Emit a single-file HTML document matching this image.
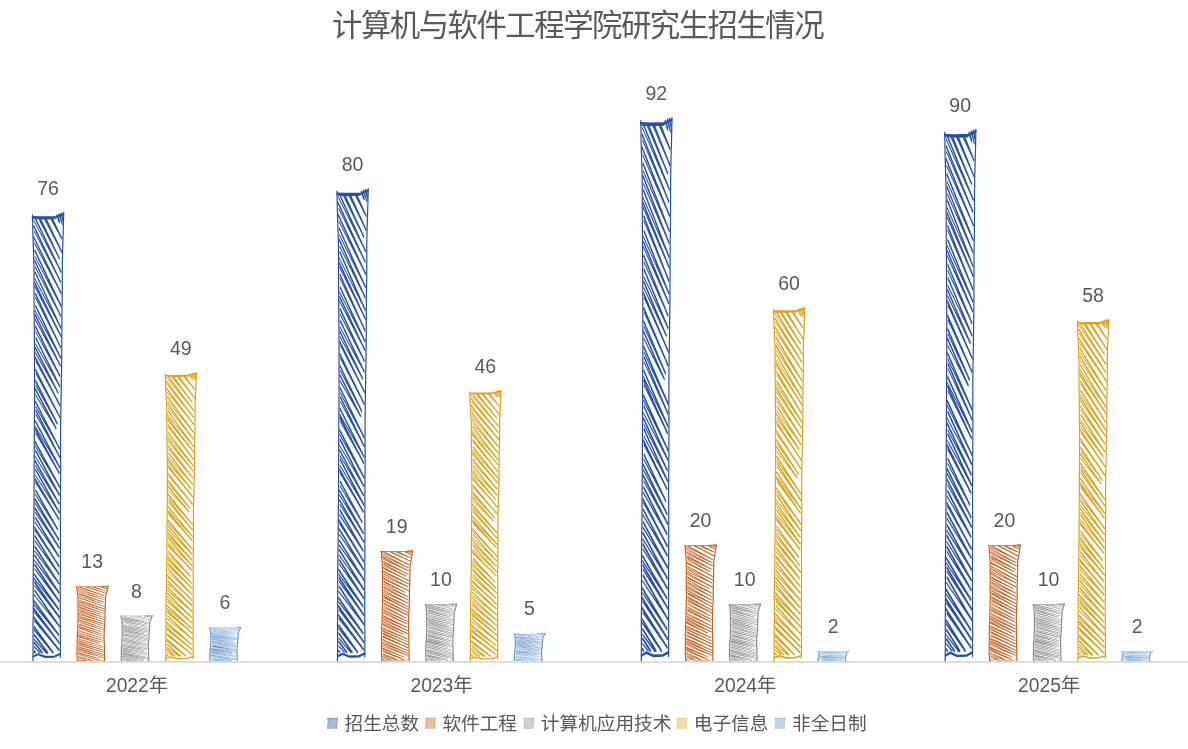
<!DOCTYPE html><html lang="zh-CN"><head><meta charset="utf-8"><title>计算机与软件工程学院研究生招生情况</title>
<style>html,body{margin:0;padding:0;background:#fff;}body{width:1188px;height:749px;overflow:hidden;}svg{display:block;}text{font-family:"Liberation Sans","Noto Sans CJK SC",sans-serif;fill:#595959;}.t{font-size:30.4px;letter-spacing:-1.5px;}.v{font-size:19.5px;text-anchor:middle;}.c{font-size:19.3px;text-anchor:middle;}.l{font-size:18.67px;}</style></head><body>
<svg width="1188" height="749" viewBox="0 0 1188 749">
<defs><symbol id="pa" viewBox="0 0 32 214" preserveAspectRatio="none" overflow="visible"><g fill="none" stroke="currentColor" stroke-linecap="round" stroke-linejoin="round"><path stroke="none" fill="currentColor" d="M25.71 3.07L27.26 4.58L28.02 3.79L26.48 2.28ZM25.65 2.96L27.39 4.47L27.89 3.89L26.15 2.39ZM19.89 3.06L29.49 12.75L30.27 11.98L20.67 2.29ZM18.48 2.96L29.63 12.65L30.13 12.08L18.98 2.39ZM13.47 3.06L29.55 19.21L30.32 18.43L14.25 2.29ZM12.1 2.96L29.68 19.1L30.19 18.54L12.62 2.39ZM7.86 3.06L27.17 22.33L27.95 21.55L8.64 2.29ZM6.43 2.96L27.3 22.22L27.82 21.66L6.95 2.39ZM3.04 3.06L28.95 28.76L29.72 27.98L3.81 2.29ZM1.43 3.77L29.08 28.66L29.59 28.09L1.94 3.2ZM1.14 6.45L28.47 33.54L29.24 32.76L1.91 5.68ZM1.87 8.89L28.59 33.43L29.11 32.87L2.39 8.33ZM1.14 11.74L29.1 39.04L29.87 38.26L1.91 10.96ZM2.01 14.54L29.23 38.93L29.74 38.36L2.52 13.97ZM2.13 17.98L28.8 44.96L29.58 44.18L2.91 17.2ZM2.51 20.95L28.93 44.85L29.44 44.29L3.02 20.38ZM2.07 22.95L28.52 49.72L29.3 48.95L2.85 22.18ZM2.8 26.01L28.66 49.62L29.17 49.05L3.32 25.44ZM2.65 28.52L28.6 55.32L29.39 54.56L3.43 27.75ZM2.28 31.37L28.74 55.22L29.25 54.66L2.79 30.8ZM2.26 33.59L28.79 59.43L29.55 58.65L3.02 32.8ZM2.5 35.29L28.91 59.32L29.43 58.76L3.01 34.73ZM2.91 38.75L28.36 64.63L29.14 63.86L3.7 37.98ZM3.02 40.38L28.49 64.52L29.01 63.97L3.54 39.83ZM3.07 44.56L28.41 69.61L29.18 68.83L3.84 43.78ZM2.6 46.71L28.55 69.51L29.05 68.93L3.1 46.14ZM2.6 48.9L28.21 73.47L28.97 72.68L3.36 48.11ZM2.55 50.74L28.34 73.37L28.85 72.79L3.06 50.17ZM2.9 54.34L27.59 78.3L28.36 77.52L3.66 53.55ZM3.15 56.69L27.72 78.2L28.23 77.62L3.66 56.11ZM3.22 59.77L27.61 83.28L28.37 82.49L3.98 58.98ZM3.07 62.61L27.74 83.18L28.23 82.59L3.56 62.02ZM2.78 64.51L25.94 86.36L26.7 85.56L3.53 63.71ZM3.08 66.93L26.07 86.25L26.57 85.66L3.57 66.34ZM2.72 69.14L28 92.64L28.74 91.83L3.47 68.33ZM3.53 70.8L28.12 92.52L28.62 91.95L4.04 70.23ZM2.82 74.81L27.6 97.93L28.34 97.13L3.57 74.01ZM3.53 76.62L27.72 97.82L28.22 97.25L4.03 76.04ZM2.93 80.23L25.06 101.09L25.81 100.29L3.68 79.43ZM3.49 82.37L25.19 100.98L25.69 100.4L3.99 81.79ZM2.72 84.19L23.9 103.37L24.64 102.55L3.46 83.38ZM3.24 87L24.04 103.26L24.51 102.66L3.71 86.4ZM2.79 90.04L27.56 113.06L28.3 112.25L3.53 89.24ZM3.37 92.46L27.68 112.95L28.18 112.36L3.87 91.87ZM3.4 94.38L27.58 117.06L28.33 116.26L4.15 93.58ZM3.4 96.25L27.7 116.95L28.2 116.37L3.89 95.67ZM2.84 99.54L27.55 121.96L28.29 121.15L3.58 98.72ZM2.68 101.98L27.68 121.85L28.16 121.25L3.16 101.38ZM2.88 103.45L27.07 124.67L27.79 123.85L3.6 102.62ZM3.37 105.18L27.19 124.56L27.67 123.96L3.85 104.59ZM2.61 109.31L27.49 131.29L28.22 130.47L3.34 108.48ZM2.72 111.18L27.61 131.18L28.09 130.58L3.2 110.58ZM3.05 113.62L27.19 135.05L27.92 134.23L3.78 112.8ZM2.59 116.16L27.33 134.94L27.79 134.33L3.05 115.55ZM2.53 118.36L26.89 139.29L27.6 138.46L3.24 117.53ZM3.12 120.79L27.01 139.17L27.48 138.57L3.59 120.19ZM3.11 122.66L27.2 143.51L27.92 142.68L3.83 121.83ZM3.06 125.34L27.34 143.4L27.79 142.79L3.51 124.73ZM2.47 127.13L26.68 146.68L27.37 145.83L3.16 126.27ZM3.13 128.64L26.79 146.56L27.25 145.95L3.59 128.03ZM3.11 132.61L25.43 151.4L26.14 150.56L3.82 131.77ZM2.96 134.39L25.55 151.28L26.01 150.67L3.42 133.78ZM2.46 136.69L26.63 156.45L27.33 155.6L3.16 135.84ZM2.59 138.57L26.75 156.33L27.21 155.71L3.04 137.95ZM2.34 140.98L27.24 160.34L27.91 159.48L3.01 140.11ZM3.03 143.04L27.35 160.22L27.79 159.6L3.47 142.42ZM2.86 145.54L26.57 164.34L27.25 163.48L3.54 144.68ZM2.6 147.6L26.69 164.23L27.12 163.6L3.03 146.97ZM2.02 150.21L27.03 169.17L27.69 168.29L2.68 149.34ZM2.73 151.49L27.14 169.04L27.58 168.42L3.17 150.87ZM2.32 154.28L26.91 172.84L27.57 171.96L2.98 153.4ZM2.41 156.48L27.03 172.72L27.45 172.08L2.83 155.84ZM2.39 159.34L27.23 177.55L27.88 176.66L3.04 158.45ZM2.24 161.31L27.35 177.42L27.76 176.78L2.65 160.66ZM2.06 163.48L27.05 181.85L27.7 180.97L2.71 162.6ZM2.13 165.9L27.17 181.74L27.58 181.09L2.54 165.25ZM2.12 167.97L27.03 185.8L27.67 184.91L2.76 167.07ZM2.33 169.87L27.14 185.68L27.55 185.03L2.74 169.23ZM1.59 172.55L26.59 189.65L27.21 188.74L2.21 171.64ZM1.66 174.47L26.7 189.52L27.09 188.87L2.05 173.82ZM2.05 176.32L27.47 193.6L28.09 192.69L2.67 175.41ZM2.24 177.82L27.58 193.47L27.98 192.82L2.64 177.17ZM2.17 180.28L27.41 197.81L28.04 196.91L2.79 179.38ZM1.68 182.31L27.53 197.69L27.92 197.03L2.07 181.65ZM1.52 185.33L26.59 201.78L27.19 200.86L2.13 184.41ZM1.84 187.11L26.7 201.65L27.08 200.99L2.23 186.45ZM1.4 189.09L27.27 205.68L27.87 204.76L1.99 188.16ZM1.92 190.49L27.38 205.55L27.77 204.89L2.3 189.83ZM1.41 193.19L26.98 209.08L27.56 208.15L1.99 192.25ZM2.23 194.75L27.08 208.95L27.46 208.28L2.61 194.08ZM1.53 197.66L21.23 210.39L21.82 209.47L2.12 196.74ZM1.51 198.94L21.11 210.26L21.49 209.6L1.89 198.28ZM1.73 201.42L15.74 210.4L16.33 209.47L2.32 200.49ZM1.93 203.56L14.48 210.27L14.84 209.6L2.29 202.88ZM1.76 205.18L10.33 210.4L10.9 209.47L2.33 204.24ZM1.99 207.15L8.1 210.27L8.45 209.59L2.34 206.47ZM1.49 209.24L3.35 210.4L3.93 209.47L2.08 208.31Z"/><path stroke-width="1.2" d="M0.54 1.18L0.82 9.36L1.45 17.55L2.01 25.73L1.98 33.92L2.06 42.1L2.22 50.29L2.34 58.48L2.48 66.66L2.55 74.85L2.53 83.03L2.57 91.22L2.37 99.4L2.33 107.59L2.18 115.77L2.17 123.96L2.07 132.14L2.01 140.33L1.77 148.52L1.71 156.7L1.45 164.89L1.2 173.07L1.19 181.26L1.28 189.44L1.01 197.63L1.11 205.81L0.98 214M31.7 0L31.26 8.14L30.71 16.28L30.31 24.42L30.29 32.56L30.21 40.7L29.87 48.84L29.84 56.98L29.75 65.12L29.62 73.26L29.32 81.4L29.03 89.54L28.71 97.68L28.61 105.82L28.58 113.96L28.7 122.1L28.52 130.24L28.43 138.38L28.33 146.52L28.45 154.66L28.41 162.8L28.34 170.94L28.26 179.09L28.27 187.23L28.31 195.37L28.38 203.51L28.32 211.65"/><path stroke-width="1.05" d="M0.29 2.03L9.49 2.15L18.49 2.08L24.2 1.98L27.7 1.12L31.7 0.5M0.99 2.48L12.49 2.58L23.7 2.43M24.7 1.12L27.5 4.53M27.1 0.51L30.1 5.23M29.3 0.2L31.1 4.03M1.01 211.59L6.01 210.39L13.01 211.69L22.4 211.49L28.4 210.19"/><path stroke="none" fill="currentColor" fill-opacity="0.5" d="M24.5 2.03L26.2 1.02L31.7 0.4L31.4 3.83Z"/></g></symbol><symbol id="pb" viewBox="0 0 32 214" preserveAspectRatio="none" overflow="visible"><g fill="none" stroke="currentColor" stroke-linecap="round" stroke-linejoin="round"><path stroke="none" fill="currentColor" d="M23.69 3.21L30.21 9.3L31.2 8.24L24.69 2.14ZM23.03 3.07L30.38 9.16L31.03 8.38L23.68 2.28ZM16.73 3.21L28.97 14.65L29.96 13.58L17.72 2.14ZM14.52 3.07L29.16 14.51L29.78 13.72L15.15 2.28ZM10.04 3.2L29.01 21.4L30.02 20.35L11.05 2.15ZM8.84 3.05L29.18 21.25L29.86 20.5L9.51 2.3ZM2.84 3.19L27.76 28.43L28.8 27.41L3.88 2.16ZM1.02 4.06L27.94 28.29L28.62 27.54L1.7 3.31ZM0.98 7.45L27.44 34.52L28.48 33.51L2.03 6.43ZM1.18 11.29L27.62 34.4L28.29 33.63L1.85 10.53ZM1.22 14L27.86 40.14L28.88 39.1L2.24 12.96ZM2.04 17.37L28.04 40L28.7 39.24L2.71 16.6ZM2.12 21.35L27.28 46.71L28.31 45.68L3.15 20.32ZM1.97 23.62L27.45 46.57L28.13 45.82L2.65 22.86ZM2.37 26.59L25.17 50.48L26.22 49.48L3.42 25.59ZM2.47 29.95L25.36 50.36L26.03 49.6L3.14 29.2ZM1.83 33.09L27.98 59.21L29.01 58.18L2.86 32.06ZM2.3 35.11L28.15 59.07L28.84 58.32L2.99 34.37ZM1.79 39.96L27.82 65.76L28.84 64.72L2.81 38.93ZM2.21 43.18L28 65.62L28.66 64.86L2.88 42.42ZM2.4 45.94L27.07 70.98L28.1 69.96L3.44 44.91ZM2.06 49.6L27.26 70.85L27.91 70.08L2.72 48.82ZM1.88 52.51L27.71 78.78L28.74 77.76L2.92 51.48ZM2.1 55.52L27.89 78.65L28.56 77.89L2.78 54.76ZM1.92 59.34L24.18 81.33L25.2 80.29L2.95 58.3ZM2.39 61.68L24.35 81.19L25.02 80.43L3.06 60.92ZM2.43 64.95L27.28 89.98L28.31 88.96L3.46 63.93ZM2.08 68.52L27.47 89.86L28.12 89.08L2.73 67.75ZM2.34 70.81L27.41 96.44L28.45 95.42L3.38 69.79ZM2.69 74.09L27.6 96.31L28.27 95.55L3.36 73.34ZM1.85 77.03L26.92 102.16L27.95 101.14L2.88 76ZM1.99 80.41L27.11 102.03L27.77 101.27L2.65 79.64ZM2.26 84.26L27.1 108.7L28.12 107.66L3.28 83.22ZM2.2 87.29L27.29 108.57L27.94 107.79L2.86 86.52ZM2.46 89.18L26.97 114.04L28.01 113.02L3.5 88.16ZM2.44 91.03L27.15 113.9L27.84 113.16L3.13 90.29ZM2.14 95.37L27.03 120.5L28.06 119.47L3.17 94.34ZM2.01 97.46L27.2 120.36L27.89 119.61L2.69 96.71ZM2.49 101.22L26.82 125.4L27.85 124.37L3.51 100.19ZM2.72 103.96L27 125.27L27.67 124.51L3.39 103.2ZM2.44 107.87L25.18 130.72L26.21 129.7L3.47 106.84ZM2.42 110.62L25.36 130.59L26.03 129.83L3.08 109.85ZM1.89 114.24L26.43 137.34L27.42 136.28L2.89 113.18ZM2.56 117.05L26.6 137.2L27.25 136.42L3.21 116.28ZM2.11 118.88L26.02 142.01L27.04 140.97L3.12 117.83ZM2.3 121.85L26.2 141.88L26.86 141.1L2.95 121.08ZM1.75 125.92L26.08 148.67L27.07 147.61L2.74 124.86ZM2.16 128.78L26.25 148.53L26.9 147.75L2.8 128ZM1.78 131.66L26.65 154.98L27.64 153.92L2.78 130.6ZM1.48 134.41L26.83 154.84L27.46 154.05L2.12 133.62ZM1.77 137.14L26.35 160.44L27.35 159.38L2.77 136.08ZM1.76 140.3L26.53 160.3L27.17 159.51L2.4 139.51ZM1.47 142.62L22.78 162.29L23.76 161.22L2.46 141.55ZM1.41 144.39L22.95 162.15L23.59 161.36L2.05 143.61ZM1.01 148.7L26.26 170.95L27.22 169.86L1.98 147.61ZM1.38 151.36L26.43 170.8L27.05 170L2.01 150.56ZM1.3 154.36L26.31 176.13L27.26 175.04L2.26 153.26ZM1.81 156.24L26.47 175.98L27.1 175.19L2.44 155.45ZM1.65 159.52L26.78 182.06L27.76 180.97L2.62 158.44ZM1.78 161.45L26.95 181.91L27.59 181.12L2.42 160.66ZM1.58 165.22L27.1 187.75L28.06 186.66L2.55 164.13ZM1.75 167.33L27.26 187.6L27.89 186.81L2.38 166.54ZM1.12 171.24L27.11 193.98L28.07 192.88L2.08 170.14ZM1.22 173.27L27.28 193.83L27.91 193.03L1.85 172.47ZM1.66 176.39L27.01 198.48L27.97 197.39L2.62 175.29ZM1.4 178.77L27.18 198.34L27.79 197.53L2.01 177.97ZM1.32 181.47L27.34 202.98L28.26 201.86L2.25 180.35ZM1.27 184.46L27.51 202.83L28.09 202L1.86 183.63ZM1.04 187.9L22.57 205.36L23.49 204.23L1.96 186.77ZM1.12 189.66L22.73 205.2L23.32 204.38L1.71 188.83ZM1.48 192.37L22.97 210.49L23.91 209.38L2.42 191.25ZM1.77 194.62L22.67 210.34L23.28 209.53L2.38 193.81ZM1.47 198.62L15.95 210.5L16.87 209.37L2.4 197.49ZM1.28 200.9L14.74 210.35L15.32 209.52L1.86 200.07ZM1.63 203.47L10.17 210.5L11.09 209.37L2.56 202.34ZM1.59 206.1L7.6 210.35L8.18 209.52L2.17 205.27ZM1.28 209.48L2.49 210.49L3.42 209.38L2.21 208.36Z"/><path stroke-width="1.2" d="M0.36 1.18L0.9 9.36L1.11 17.55L1.63 25.73L1.79 33.92L1.78 42.1L1.83 50.29L1.73 58.48L1.79 66.66L1.7 74.85L1.84 83.03L1.87 91.22L1.83 99.4L1.78 107.59L1.53 115.77L1.54 123.96L1.39 132.14L1.23 140.33L0.99 148.52L0.98 156.7L0.85 164.89L0.96 173.07L0.91 181.26L0.77 189.44L0.76 197.63L1.06 205.81L1.21 214M31.96 0L31.3 8.14L30.68 16.28L29.87 24.42L29.2 32.56L29.34 40.7L29.11 48.84L29.04 56.98L29.03 65.12L28.78 73.26L28.72 81.4L28.79 89.54L28.71 97.68L28.53 105.82L28.26 113.96L28.12 122.1L27.91 130.24L28.02 138.38L27.86 146.52L27.96 154.66L28.11 162.8L28.11 170.94L28.25 179.09L28.25 187.23L28.28 195.37L28.43 203.51L28.41 211.65"/><path stroke-width="1.05" d="M0.17 2.03L9.37 2.15L18.37 2.08L24.4 1.98L27.9 1.12L31.9 0.5M0.87 2.48L12.37 2.58L23.9 2.43M24.9 1.12L27.7 4.53M27.3 0.51L30.3 5.23M29.5 0.2L31.3 4.03M1.18 211.59L6.18 210.39L13.18 211.69L22.39 211.49L28.39 210.19"/><path stroke="none" fill="currentColor" fill-opacity="0.5" d="M24.7 2.03L26.4 1.02L31.9 0.4L31.6 3.83Z"/></g></symbol><symbol id="mk" viewBox="0 0 11 11.2" overflow="visible"><path d="M0.1 0.3L10.9 0.1L10.5 1.6L10 5.5L9.9 11L0.5 11.1L0.4 8L0.9 4L0.7 1.6Z" fill="currentColor" fill-opacity="0.4"/><path d="M0.1 0.4L10.9 0.2M10.7 0.3L10.3 2L9.9 6L9.8 11M0.3 0.5L0.8 2L0.9 4.5L0.4 8L0.5 11" fill="none" stroke="currentColor" stroke-opacity="0.32" stroke-width="0.9"/></symbol></defs>
<rect width="1188" height="749" fill="#fff"/>
<g opacity="0.999">
<text class="t" x="332" y="35.5">计算机与软件工程学院研究生招生情况</text>
<use href="#pa" x="32" y="212.96" width="32" height="448.84" color="#2650A3"/>
<text class="v" x="48" y="195.16">76</text>
<use href="#pb" x="76.2" y="585.85" width="32" height="75.95" color="#C86122"/>
<text class="v" x="92.2" y="568.05">13</text>
<use href="#pb" x="120.4" y="615.45" width="32" height="46.35" color="#8A8A8A"/>
<text class="v" x="136.4" y="597.65">8</text>
<use href="#pa" x="164.8" y="372.77" width="32" height="289.03" color="#DDA21C"/>
<text class="v" x="180.8" y="354.97">49</text>
<use href="#pb" x="209" y="627.29" width="32" height="34.51" color="#6294C9"/>
<text class="v" x="225" y="609.49">6</text>
<text class="c" x="137" y="692.4">2022年</text>
<use href="#pa" x="336.5" y="189.28" width="32" height="472.52" color="#2650A3"/>
<text class="v" x="352.5" y="171.48">80</text>
<use href="#pb" x="380.7" y="550.34" width="32" height="111.46" color="#C86122"/>
<text class="v" x="396.7" y="532.54">19</text>
<use href="#pb" x="424.9" y="603.61" width="32" height="58.19" color="#8A8A8A"/>
<text class="v" x="440.9" y="585.81">10</text>
<use href="#pa" x="469.3" y="390.53" width="32" height="271.27" color="#DDA21C"/>
<text class="v" x="485.3" y="372.73">46</text>
<use href="#pb" x="513.5" y="633.2" width="32" height="28.59" color="#6294C9"/>
<text class="v" x="529.5" y="615.4">5</text>
<text class="c" x="441.5" y="692.4">2023年</text>
<use href="#pa" x="640.3" y="118.25" width="32" height="543.55" color="#2650A3"/>
<text class="v" x="656.3" y="100.45">92</text>
<use href="#pb" x="684.5" y="544.42" width="32" height="117.38" color="#C86122"/>
<text class="v" x="700.5" y="526.62">20</text>
<use href="#pb" x="728.7" y="603.61" width="32" height="58.19" color="#8A8A8A"/>
<text class="v" x="744.7" y="585.81">10</text>
<use href="#pa" x="773.1" y="307.66" width="32" height="354.14" color="#DDA21C"/>
<text class="v" x="789.1" y="289.86">60</text>
<use href="#pb" x="817.3" y="650.96" width="32" height="10.84" color="#6294C9"/>
<text class="v" x="833.3" y="633.16">2</text>
<text class="c" x="745.3" y="692.4">2024年</text>
<use href="#pa" x="944.2" y="130.09" width="32" height="531.71" color="#2650A3"/>
<text class="v" x="960.2" y="112.29">90</text>
<use href="#pb" x="988.4" y="544.42" width="32" height="117.38" color="#C86122"/>
<text class="v" x="1004.4" y="526.62">20</text>
<use href="#pb" x="1032.6" y="603.61" width="32" height="58.19" color="#8A8A8A"/>
<text class="v" x="1048.6" y="585.81">10</text>
<use href="#pa" x="1077" y="319.5" width="32" height="342.3" color="#DDA21C"/>
<text class="v" x="1093" y="301.7">58</text>
<use href="#pb" x="1121.2" y="650.96" width="32" height="10.84" color="#6294C9"/>
<text class="v" x="1137.2" y="633.16">2</text>
<text class="c" x="1049.2" y="692.4">2025年</text>
<rect x="0" y="661.1" width="1188" height="1.7" fill="#D9D9D9"/>
<use href="#mk" x="327.1" y="717.8" width="11" height="11.2" color="#2650A3"/>
<text class="l" x="344.5" y="730">招生总数</text>
<use href="#mk" x="425" y="717.8" width="11" height="11.2" color="#C86122"/>
<text class="l" x="442.4" y="730">软件工程</text>
<use href="#mk" x="523.4" y="717.8" width="11" height="11.2" color="#8A8A8A"/>
<text class="l" x="540.8" y="730">计算机应用技术</text>
<use href="#mk" x="676.4" y="717.8" width="11" height="11.2" color="#DDA21C"/>
<text class="l" x="693.8" y="730">电子信息</text>
<use href="#mk" x="774.6" y="717.8" width="11" height="11.2" color="#6294C9"/>
<text class="l" x="792" y="730">非全日制</text>
</g></svg></body></html>
